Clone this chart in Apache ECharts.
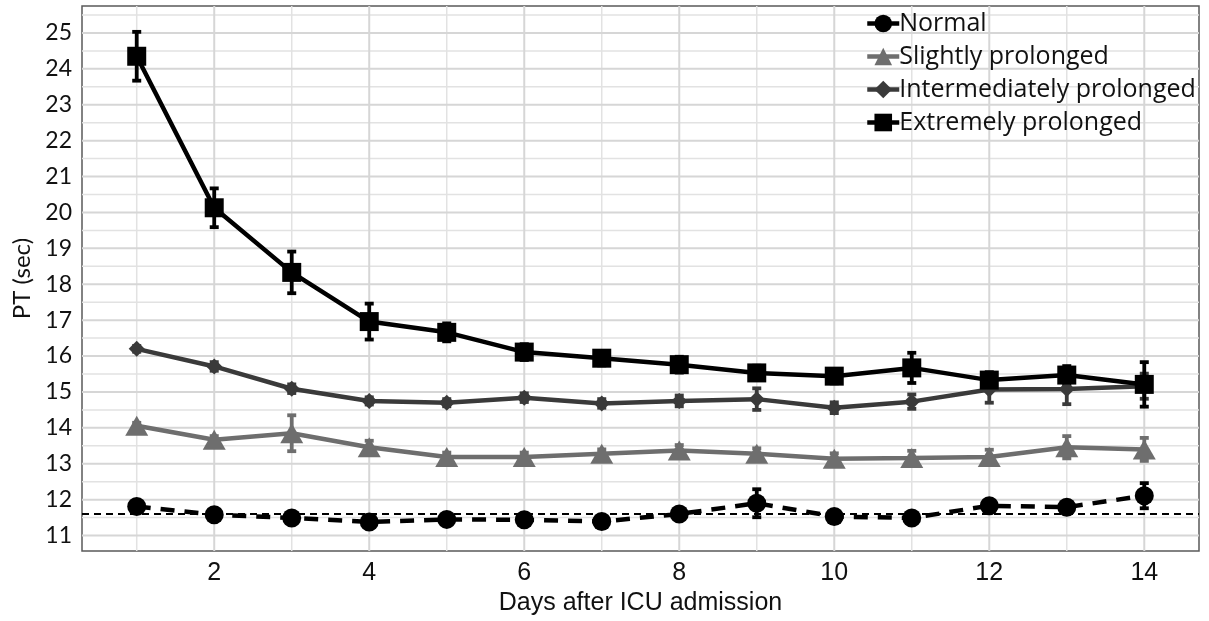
<!DOCTYPE html>
<html>
<head>
<meta charset="utf-8">
<script src="https://cdn.jsdelivr.net/npm/echarts@6/dist/echarts.min.js"></script>
<style>
html,body{margin:0;padding:0;background:#fff;}
#chart{width:1209px;height:621px;}
</style>
</head>
<body>
<div id="chart"></div>
<script>
// ---- data ----
const days = [1, 2, 3, 4, 5, 6, 7, 8, 9, 10, 11, 12, 13, 14];
const normal = [11.81, 11.58, 11.49, 11.38, 11.45, 11.44, 11.39, 11.60, 11.90, 11.53, 11.49, 11.83, 11.79, 12.11];
const normalErr = [0.10, 0.08, 0.08, 0.08, 0.08, 0.08, 0.08, 0.10, 0.39, 0.10, 0.08, 0.15, 0.15, 0.35];
const slight = [14.06, 13.67, 13.85, 13.46, 13.19, 13.19, 13.28, 13.37, 13.28, 13.14, 13.16, 13.19, 13.46, 13.40];
const slightErr = [0.08, 0.10, 0.50, 0.18, 0.12, 0.12, 0.12, 0.15, 0.15, 0.15, 0.20, 0.20, 0.31, 0.32];
const inter = [16.20, 15.71, 15.09, 14.75, 14.70, 14.84, 14.68, 14.75, 14.80, 14.56, 14.73, 15.07, 15.08, 15.16];
const interErr = [0.08, 0.12, 0.12, 0.10, 0.10, 0.12, 0.12, 0.15, 0.30, 0.15, 0.20, 0.37, 0.42, 0.35];
const extreme = [24.35, 20.13, 18.33, 16.96, 16.66, 16.11, 15.94, 15.76, 15.53, 15.44, 15.67, 15.33, 15.47, 15.21];
const extremeErr = [0.68, 0.54, 0.58, 0.50, 0.25, 0.22, 0.20, 0.22, 0.20, 0.20, 0.42, 0.22, 0.25, 0.62];
const referenceLine = 11.6;

const xTickLabels = [2, 4, 6, 8, 10, 12, 14];
const xGridMinor = [1, 3, 5, 7, 9, 11, 13];
const yTickLabels = [11, 12, 13, 14, 15, 16, 17, 18, 19, 20, 21, 22, 23, 24, 25];
const yGridMinor = [11.5, 12.5, 13.5, 14.5, 15.5, 16.5, 17.5, 18.5, 19.5, 20.5, 21.5, 22.5, 23.5, 24.5, 25.5];

const seriesNames = ['Normal', 'Slightly prolonged', 'Intermediately prolonged', 'Extremely prolonged'];
// ---- end data ----

const XMIN = 0.294, XMAX = 14.706, YMIN = 10.567, YMAX = 25.75;

const pairs = (vals) => days.map((d, i) => [d, vals[i]]);
const errData = (vals, err) => days.map((d, i) => [d, vals[i] - err[i], vals[i] + err[i]]);

function gridSeries(vals, vertical, color, width) {
  return {
    type: 'custom', silent: true, z: 1,
    data: vals.map(v => vertical ? [v, YMIN] : [XMIN, v]),
    encode: {x: 0, y: 1},
    renderItem: function (params, api) {
      const cs = params.coordSys;
      const p = api.coord([api.value(0), api.value(1)]);
      const shape = vertical
        ? {x1: p[0], y1: cs.y, x2: p[0], y2: cs.y + cs.height}
        : {x1: cs.x, y1: p[1], x2: cs.x + cs.width, y2: p[1]};
      return {type: 'line', shape: shape, style: {stroke: color, lineWidth: width}};
    }
  };
}

function errSeries(vals, err, color) {
  return {
    type: 'custom', silent: true, z: 3,
    data: errData(vals, err),
    encode: {x: 0, y: [1, 2]},
    renderItem: function (params, api) {
      const x = api.value(0);
      const lo = api.coord([x, api.value(1)]);
      const hi = api.coord([x, api.value(2)]);
      const cap = 4.5;
      const st = {stroke: color, lineWidth: 3.8};
      return {
        type: 'group',
        children: [
          {type: 'line', shape: {x1: hi[0], y1: hi[1], x2: lo[0], y2: lo[1]}, style: st},
          {type: 'line', shape: {x1: hi[0] - cap, y1: hi[1], x2: hi[0] + cap, y2: hi[1]}, style: st},
          {type: 'line', shape: {x1: lo[0] - cap, y1: lo[1], x2: lo[0] + cap, y2: lo[1]}, style: st}
        ]
      };
    }
  };
}

const colors = ['#000000', '#6e6e6e', '#3a3a3a', '#000000'];
const symbols = ['circle', 'triangle', 'diamond', 'rect'];
const symSizes = [19, [23, 20], 16, 19];

function lineSeries(idx, vals, dashed) {
  return {
    name: seriesNames[idx], type: 'line', z: 4,
    data: pairs(vals),
    symbol: symbols[idx], symbolSize: symSizes[idx],
    showSymbol: true,
    itemStyle: {color: colors[idx]},
    lineStyle: {color: colors[idx], width: 4.5, type: dashed ? [14, 10] : 'solid'},
    emphasis: {disabled: true},
    animation: false
  };
}

const chart = echarts.init(document.getElementById('chart'), null, {renderer: 'canvas'});
const option = {
  animation: false,
  backgroundColor: '#ffffff',
  grid: {left: 82, top: 6, right: 10, bottom: 64, show: true, borderColor: '#5a5a5a', borderWidth: 1.5, backgroundColor: 'transparent'},
  xAxis: {
    type: 'value', min: XMIN, max: XMAX,
    name: 'Days after ICU admission', nameLocation: 'middle', nameGap: 37,
    nameTextStyle: {fontFamily: 'Liberation Sans Narrow, Arial Narrow, sans-serif', fontSize: 25, color: '#111'},
    axisLine: {show: false}, axisTick: {show: false}, splitLine: {show: false},
    axisLabel: {customValues: xTickLabels, fontFamily: 'Liberation Sans Narrow, Arial Narrow, sans-serif', fontSize: 25, color: '#111', margin: 10}
  },
  yAxis: {
    type: 'value', min: YMIN, max: YMAX,
    name: 'PT (sec)', nameLocation: 'middle', nameGap: 48,
    nameTextStyle: {fontFamily: 'Lato, sans-serif', fontSize: 24, color: '#111'},
    axisLine: {show: false}, axisTick: {show: false}, splitLine: {show: false},
    axisLabel: {customValues: yTickLabels, fontFamily: 'Lato, sans-serif', fontSize: 23, color: '#111', margin: 10}
  },
  legend: {
    orient: 'vertical', left: 860, top: 6, itemGap: 8,
    itemWidth: 32, itemHeight: 22,
    textStyle: {fontFamily: 'Open Sans, sans-serif', fontSize: 25, color: '#111', padding: [0, 0, 0, -5]},
    lineStyle: {type: 'solid', width: 4.5},
    data: seriesNames.map(n => ({name: n}))
  },
  series: [
    gridSeries(yGridMinor, false, '#e2e2e2', 1.5),
    gridSeries(xGridMinor, true, '#e2e2e2', 1.5),
    gridSeries(yTickLabels, false, '#d6d6d6', 2),
    gridSeries(xTickLabels, true, '#d6d6d6', 2),
    {
      type: 'line', data: [], silent: true, z: 2,
      markLine: {
        silent: true, symbol: 'none', label: {show: false},
        lineStyle: {color: '#000', width: 2, type: [7, 5]},
        data: [{yAxis: referenceLine}]
      }
    },
    errSeries(normal, normalErr, '#000000'),
    errSeries(slight, slightErr, '#6e6e6e'),
    errSeries(inter, interErr, '#3a3a3a'),
    errSeries(extreme, extremeErr, '#000000'),
    lineSeries(0, normal, true),
    lineSeries(1, slight, false),
    lineSeries(2, inter, false),
    lineSeries(3, extreme, false)
  ]
};
chart.setOption(option);
</script>
</body>
</html>
